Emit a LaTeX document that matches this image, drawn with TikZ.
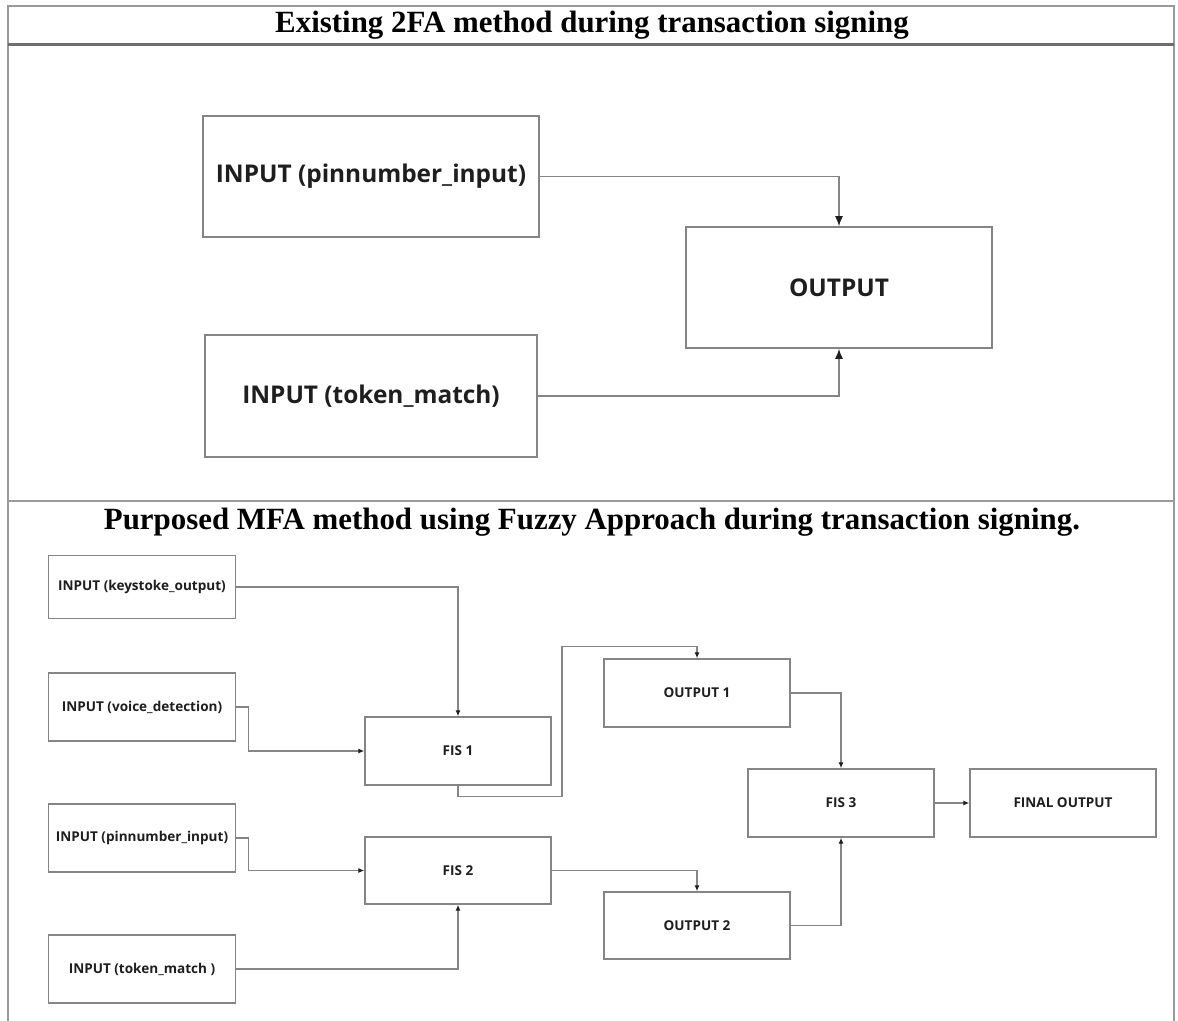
\documentclass[tikz,border=0pt]{standalone}
\usepackage{fontspec}
\usetikzlibrary{arrows.meta}
\newfontfamily\titlefont{Liberation Serif}
\newfontfamily\boxfont{Open Sans}
\definecolor{framegray}{HTML}{9A9A9A}
\definecolor{bargray}{HTML}{6E6E6E}
\definecolor{boxgray}{HTML}{858585}
\definecolor{inkgray}{HTML}{1E1E1E}
\begin{document}
\begin{tikzpicture}[x=1bp,y=-1bp,
  title/.style={font=\titlefont\bfseries\fontsize{31}{31}\selectfont, text=black, inner sep=0pt},
  bigbox/.style={draw=boxgray, line width=1.6bp, inner sep=0pt, text=inkgray,
    font=\boxfont\bfseries\fontsize{24.5}{26}\selectfont},
  smallbox/.style={draw=boxgray, line width=1.4bp, inner sep=0pt, text=inkgray,
    minimum width=187bp, minimum height=68bp,
    font=\boxfont\bfseries\fontsize{13.6}{15}\selectfont},
  bigarrow/.style={draw=boxgray, line width=1.4bp, -{Latex[length=10bp,width=8bp,color=inkgray]}},
  smallarrow/.style={draw=boxgray, line width=1.2bp, -{Latex[length=6bp,width=5bp,color=inkgray]}}
]
\useasboundingbox (0,0) rectangle (1178,1021);
\fill[white] (0,0) rectangle (1178,1021);

% table frame and row rules
\draw[framegray, line width=2bp] (8,1021) -- (8,6) -- (1174,6) -- (1174,1021);
\draw[bargray, line width=3bp] (8,44) -- (1174,44);
\draw[framegray, line width=2bp] (8,501) -- (1174,501);

% section titles
\node[title] (t1) at (592,25) {Existing 2FA method during transaction signing};
\node[title] (t2) at (592,522) {Purposed MFA method using Fuzzy Approach during transaction signing.};

% existing two-factor scheme
\node[bigbox, minimum width=336bp, minimum height=121bp] (pinA) at (371,176.5) {INPUT (pinnumber\_input)};
\node[bigbox, minimum width=332bp, minimum height=122bp] (tokA) at (371,396) {INPUT (token\_match)};
\node[bigbox, minimum width=306bp, minimum height=121bp] (outA) at (839,287.5) {OUTPUT};

\draw[bigarrow] (pinA.east) -| (outA.north);
\draw[bigarrow] (tokA.east) -| (outA.south);

% fuzzy multi-factor scheme
\node[smallbox, minimum height=63bp] (key) at (142,587) {INPUT (keystoke\_output)};
\node[smallbox] (voice) at (142,707) {INPUT (voice\_detection)};
\node[smallbox] (pinB)  at (142,838) {INPUT (pinnumber\_input)};
\node[smallbox] (tokB)  at (142,969) {INPUT (token\_match )};

\node[smallbox, minimum width=186bp] (fis1) at (458,751) {FIS 1};
\node[smallbox, minimum width=186bp, minimum height=67bp] (fis2) at (458,870.5) {FIS 2};
\node[smallbox, minimum width=186bp] (out1) at (697,693) {OUTPUT 1};
\node[smallbox, minimum width=186bp, minimum height=67bp] (out2) at (697,925.5) {OUTPUT 2};
\node[smallbox, minimum width=186bp] (fis3) at (841,803) {FIS 3};
\node[smallbox, minimum width=186bp] (final) at (1063,803) {FINAL OUTPUT};

\draw[smallarrow] (key.east) -| (fis1.north);
\draw[smallarrow] (voice.east) -- ++(12,0) |- (fis1.west);
\draw[smallarrow] (fis1.south) -- ++(0,11) -- ++(104,0) |- ([yshift=12bp]out1.north) -- (out1.north);
\draw[smallarrow] (pinB.east) -- ++(12,0) |- (fis2.west);
\draw[smallarrow] (tokB.east) -| (fis2.south);
\draw[smallarrow] (fis2.east) -| (out2.north);
\draw[smallarrow] (out1.east) -| (fis3.north);
\draw[smallarrow] (out2.east) -| (fis3.south);
\draw[smallarrow] (fis3.east) -- (final.west);
\end{tikzpicture}
\end{document}
